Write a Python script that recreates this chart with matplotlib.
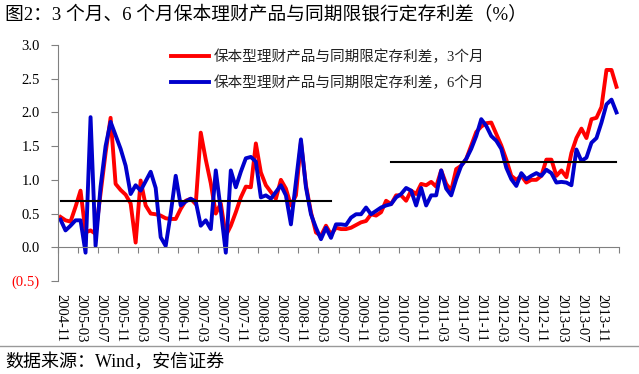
import numpy as np
import pandas as pd
import matplotlib
matplotlib.use("Agg")
import matplotlib.pyplot as plt
from matplotlib.transforms import blended_transform_factory

# monthly categories, 2004-11 .. 2014-02
months = list(pd.period_range("2004-11", "2014-02", freq="M").strftime("%Y-%m"))

# 3-month spread (red)
spread_3m = [
    0.45, 0.40, 0.38, 0.60, 0.84, 0.22, 0.25, 0.20, 0.80, 1.40,
    1.92, 0.94, 0.85, 0.78, 0.65, 0.07, 0.99, 0.62, 0.50, 0.49,
    0.47, 0.43, 0.42, 0.42, 0.57, 0.69, 0.72, 0.64, 1.70, 1.30,
    0.95, 0.50, 0.65, 0.17, 0.32, 0.52, 0.74, 0.90, 0.89, 1.54,
    1.11, 0.92, 0.82, 0.72, 1.00, 0.87, 0.62, 0.77, 1.56, 0.92,
    0.52, 0.22, 0.17, 0.32, 0.19, 0.29, 0.27, 0.27, 0.29, 0.33,
    0.37, 0.39, 0.49, 0.47, 0.52, 0.69, 0.64, 0.77, 0.77, 0.69,
    0.84, 0.79, 0.94, 0.92, 0.97, 0.90, 1.14, 0.94, 0.84, 1.16,
    1.21, 1.31, 1.51, 1.71, 1.79, 1.84, 1.85, 1.68, 1.51, 1.30,
    1.06, 1.00, 1.06, 0.96, 1.00, 1.00, 1.06, 1.30, 1.30, 1.06,
    1.14, 1.04, 1.40, 1.62, 1.76, 1.62, 1.90, 1.92, 2.08, 2.63,
    2.63, 2.38,
]

# 6-month spread (blue)
spread_6m = [
    0.41, 0.25, 0.32, 0.40, 0.40, -0.08, 1.93, 0.02, 0.90, 1.50,
    1.86, 1.66, 1.46, 1.21, 0.79, 0.92, 0.84, 0.98, 1.12, 0.88,
    0.15, 0.02, 0.50, 1.06, 0.62, 0.68, 0.72, 0.68, 0.32, 0.40,
    0.27, 1.14, 0.55, -0.08, 1.14, 0.89, 1.12, 1.32, 1.34, 1.27,
    0.74, 0.77, 0.72, 0.82, 0.92, 0.77, 0.34, 0.97, 1.60, 0.89,
    0.49, 0.29, 0.12, 0.29, 0.14, 0.34, 0.34, 0.33, 0.44, 0.49,
    0.49, 0.59, 0.49, 0.54, 0.59, 0.62, 0.64, 0.74, 0.79, 0.88,
    0.84, 0.62, 0.88, 0.62, 0.77, 0.77, 1.14, 0.87, 0.77, 1.01,
    1.21, 1.31, 1.46, 1.65, 1.90, 1.80, 1.65, 1.58, 1.46, 1.18,
    1.01, 0.91, 1.10, 1.01, 1.06, 1.10, 1.06, 1.15, 1.10, 0.96,
    0.97, 0.96, 0.92, 1.45, 1.28, 1.33, 1.55, 1.62, 1.85, 2.12,
    2.19, 2.00,
]

# period averages (flat black lines)
mean_early = 0.68
mean_early_span = ("2004-11", "2009-05")
mean_late = 1.26
mean_late_span = ("2010-05", "2014-02")

label_3m = "保本型理财产品与同期限定存利差，3个月"
label_6m = "保本型理财产品与同期限定存利差，6个月"
title = "图2：3 个月、6 个月保本理财产品与同期限银行定存利差（%）"
source = "数据来源：Wind，安信证券"

yticks = [-0.5, 0.0, 0.5, 1.0, 1.5, 2.0, 2.5, 3.0]

#%%
fam = ["Liberation Serif", "Noto Sans CJK SC"]
plt.rcParams["font.family"] = fam

fig = plt.figure(figsize=(6.39, 3.74), dpi=100)
ax = fig.add_axes([58 / 639, 1 - 281 / 374, 561 / 639, 236 / 374])

x = np.arange(len(months))
ax.plot(x, spread_3m, color="#ff0000", lw=2.8, label=label_3m, solid_joinstyle="round")
ax.plot(x, spread_6m, color="#0000cc", lw=2.8, label=label_6m, solid_joinstyle="round")

for m, (a, b) in [(mean_early, mean_early_span), (mean_late, mean_late_span)]:
    i0, i1 = months.index(a), months.index(b)
    ax.plot([i0, i1], [m, m], color="black", lw=1.5, zorder=4)

ax.set_xlim(-0.5, len(months) - 0.5)
ax.set_ylim(-0.5, 3.0)

ax.spines["top"].set_visible(False)
ax.spines["right"].set_visible(False)
ax.spines["left"].set_color("#808080")
ax.spines["bottom"].set_color("#808080")
ax.spines["bottom"].set_position(("data", 0))

ax.set_yticks(yticks)
ylabs = ["(%.1f)" % abs(v) if v < 0 else "%.1f" % v for v in yticks]
ax.set_yticklabels(ylabs, fontsize=10.5)
for t, v in zip(ax.get_yticklabels(), yticks):
    if v < 0:
        t.set_color("#ff0000")
ax.tick_params(axis="y", direction="out", length=5, pad=8, color="#808080")

ax.set_xticks(np.arange(-0.5, len(months), 4))
ax.set_xticklabels([])
ax.tick_params(axis="x", direction="out", length=4, color="#808080")

tr = blended_transform_factory(ax.transData, ax.transAxes)
for i in range(0, len(months), 4):
    ax.text(i, -0.055, months[i], transform=tr, rotation=-90, ha="center", va="top",
            fontsize=10.5)

leg = ax.legend(loc="upper left", bbox_to_anchor=(164 / 639, 1 - 42 / 374),
                bbox_transform=fig.transFigure, frameon=False, fontsize=10.5,
                handlelength=2.6, handletextpad=0.3, labelspacing=0.8, borderpad=0)
for t in leg.get_texts():
    t.set_color("#222222")

fig.text(5 / 639, 1 - 15 / 374, title, fontsize=13.5, va="center", ha="left")
fig.add_artist(plt.Line2D([0, 1], [1 - 345.5 / 374] * 2, color="#999999", lw=1))
fig.text(5 / 639, 1 - 362 / 374, source, fontsize=13, va="center", ha="left")

fig.savefig("out.png", dpi=100)
